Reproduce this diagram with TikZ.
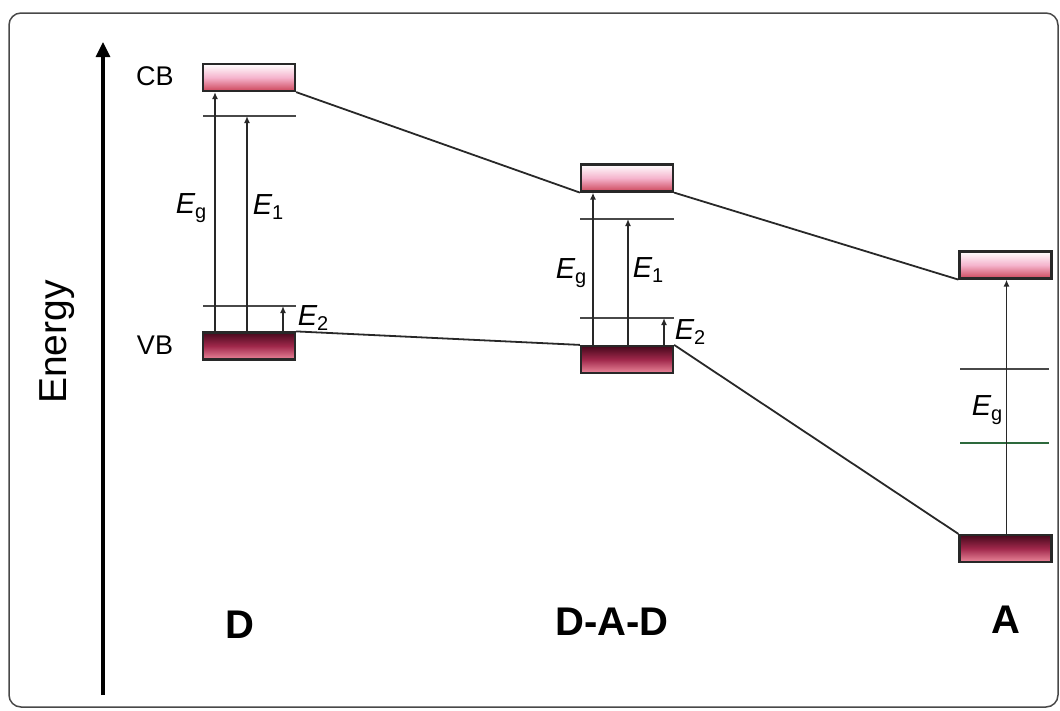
\documentclass[tikz,border=0pt]{standalone}
\usepackage{fontspec}
\setmainfont{Liberation Sans}
\usetikzlibrary{arrows.meta}

\definecolor{edge}{RGB}{40,40,40}
\definecolor{cbpink}{RGB}{245,180,205}
\definecolor{cbred}{RGB}{205,70,90}
\definecolor{vbdark}{RGB}{70,8,28}
\definecolor{vbred}{RGB}{160,40,75}
\definecolor{vbpink}{RGB}{235,135,155}
\definecolor{lvgreen}{RGB}{45,105,60}

% E with an upright subscript
\newcommand{\en}[1]{{\itshape E}\raisebox{-5pt}{\fontsize{20}{20}\selectfont #1}}

\tikzset{
  band/.style={draw=edge, line width=2.2pt, minimum width=92pt, minimum height=27pt, inner sep=0pt},
  cbband/.style={band, top color=white, bottom color=cbred, middle color=cbpink},
  vbband/.style={band, top color=vbdark, bottom color=vbpink, middle color=vbred},
  level/.style={draw=edge!85, line width=1.7pt},
  trans/.style={draw=edge, line width=1.7pt, -{Latex[length=7pt,width=6pt]}},
  link/.style={draw=edge, line width=1.8pt},
  elabel/.style={font=\fontsize{29}{30}\selectfont},
  bandname/.style={font=\fontsize{27}{28}\selectfont},
  molname/.style={font=\fontsize{40}{42}\selectfont\bfseries}
}

\begin{document}
\begin{tikzpicture}[x=1pt,y=-1pt]
\useasboundingbox (0,0) rectangle (1060,710);
\draw[edge!85, line width=1.5pt, rounded corners=12pt] (9,13) rectangle (1058,707);

% energy axis
\coordinate (axbot) at (103,695);
\coordinate (axtop) at (103,42);
\draw[line width=3.2pt, -{Triangle[length=15pt,width=14pt]}] (axbot) -- (axtop);
\node[rotate=90, font=\fontsize{39}{40}\selectfont] (energy) at (57,342) {Energy};

% bands
\node[cbband] (cbD) at (249,77.5) {};
\node[vbband] (vbD) at (249,346) {};
\node[cbband] (cbM) at (627,178) {};
\node[vbband] (vbM) at (627,359.5) {};
\node[cbband] (cbA) at (1005.5,265) {};
\node[vbband] (vbA) at (1005.5,548.5) {};

\draw[link] (cbD.south east) -- (cbM.south west);
\draw[link] (cbM.south east) -- (cbA.south west);
\draw[link] (vbD.north east) -- (vbM.north west);
\draw[link] (vbM.north east) -- (vbA.north west);

\node[bandname] (cb) at (155,76) {CB};
\node[bandname] (vb) at (155,345) {VB};

% levels inside the gap
\coordinate (lvD1) at (249,116);
\coordinate (lvD2) at (249,306);
\coordinate (lvM1) at (627,219);
\coordinate (lvM2) at (627,318);
\coordinate (lvA1) at (1005,369);
\coordinate (lvA2) at (1005,443);
\draw[level] (lvD1) +(-46,0) -- +(47,0);
\draw[level] (lvD2) +(-46,0) -- +(47,0);
\draw[level] (lvM1) +(-47,0) -- +(47,0);
\draw[level] (lvM2) +(-47,0) -- +(47,0);
\draw[level] (lvA1) +(-45,0) -- +(44,0);
\draw[level, draw=lvgreen] (lvA2) +(-45,0) -- +(44,0);

% transitions
\draw[trans] ([xshift=-34pt]vbD.north) -- ([xshift=-34pt]cbD.south);
\draw[trans] ([xshift=-2pt]vbD.north) -- ([xshift=-2pt]lvD1);
\draw[trans] ([xshift=34pt]vbD.north) -- ([xshift=34pt]lvD2);
\draw[trans] ([xshift=-34pt]vbM.north) -- ([xshift=-34pt]cbM.south);
\draw[trans] ([xshift=1pt]vbM.north) -- ([xshift=1pt]lvM1);
\draw[trans] ([xshift=37pt]vbM.north) -- ([xshift=37pt]lvM2);
\draw[trans] ([xshift=1pt]vbA.north) -- ([xshift=1pt]cbA.south);

\node[elabel] (egD) at (191,208) {\en{g}};
\node[elabel] (e1D) at (268,207) {\en{1}};
\node[elabel] (e2D) at (313,318) {\en{2}};
\node[elabel] (egM) at (571,273) {\en{g}};
\node[elabel] (e1M) at (648,270) {\en{1}};
\node[elabel] (e2M) at (690,332) {\en{2}};
\node[elabel] (egA) at (987,410) {\en{g}};

% molecules
\node[molname] (molD) at (240,625) {D};
\node[molname] (molM) at (612,622) {D-A-D};
\node[molname] (molA) at (1006,620) {A};
\end{tikzpicture}
\end{document}
